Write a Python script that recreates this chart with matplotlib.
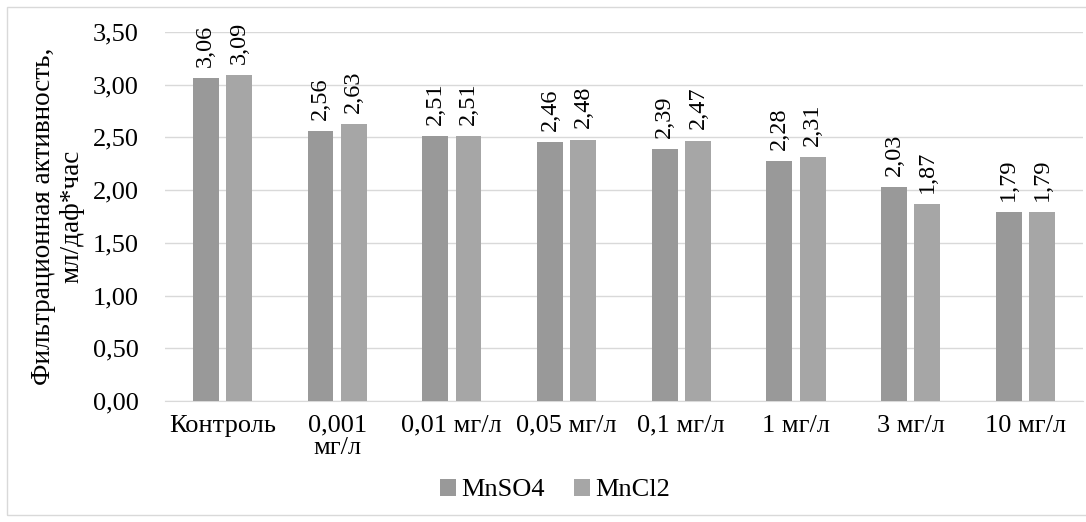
import matplotlib.pyplot as plt
import numpy as np
from matplotlib.patches import Rectangle

plt.rcParams['font.family'] = ['Liberation Serif', 'DejaVu Serif']

kategorijas = ['Контроль', '0,001\nмг/л', '0,01 мг/л', '0,05 мг/л', '0,1 мг/л',
               '1 мг/л', '3 мг/л', '10 мг/л']
mnso4 = [3.06, 2.56, 2.51, 2.46, 2.39, 2.28, 2.03, 1.79]
mncl2 = [3.09, 2.63, 2.51, 2.48, 2.47, 2.31, 1.87, 1.79]
yticks = [0, 0.5, 1.0, 1.5, 2.0, 2.5, 3.0, 3.5]

fig = plt.figure(figsize=(10.86, 5.22), dpi=100)
ax = fig.add_axes([0.152, 0.2318, 0.845, 0.7069])

x = np.arange(len(kategorijas))
w = 0.225
off = 0.145
b1 = ax.bar(x - off, mnso4, w, color='#999999', label='MnSO4', zorder=3)
b2 = ax.bar(x + off, mncl2, w, color='#a6a6a6', label='MnCl2', zorder=3)

for bars, vals in [(b1, mnso4), (b2, mncl2)]:
    for r, v in zip(bars, vals):
        ax.annotate(('%.2f' % v).replace('.', ','),
                    (r.get_x() + r.get_width() / 2, v),
                    xytext=(0, 8), textcoords='offset points',
                    rotation=90, ha='center', va='bottom', fontsize=17.5)

ax.set_xlim(-0.5, len(kategorijas) - 0.5)
ax.set_ylim(0, 3.5)
ax.set_yticks(yticks)
ax.set_yticklabels([('%.2f' % t).replace('.', ',') for t in yticks], fontsize=19)
ax.set_xticks(x)
ax.set_xticklabels(kategorijas, fontsize=19, linespacing=1.0, va='top')
ax.tick_params(length=0)
ax.tick_params(axis='x', pad=10)
ax.tick_params(axis='y', pad=19)
ax.grid(axis='y', color='#d9d9d9', linewidth=1, zorder=0)
for s in ['top', 'right', 'left']:
    ax.spines[s].set_visible(False)
ax.spines['bottom'].set_color('#d9d9d9')

fig.text(0.053, 0.585, 'Фильтрационная активность,\nмл/даф*час', rotation=90,
         ha='center', va='center', fontsize=19.5, linespacing=1.15)

fig.legend(handles=[b1, b2], loc='center', bbox_to_anchor=(0.511, 0.061), ncol=2,
           frameon=False, fontsize=19, handlelength=0.6, handleheight=0.6,
           handletextpad=0.2, columnspacing=1.1)

fig.patches.append(Rectangle((7 / 1086, 7 / 522), 1 - 14 / 1086 + 0.02, 1 - 14 / 522,
                             transform=fig.transFigure, fill=False,
                             edgecolor='#d9d9d9', linewidth=1))

fig.savefig('out.png', dpi=100)
